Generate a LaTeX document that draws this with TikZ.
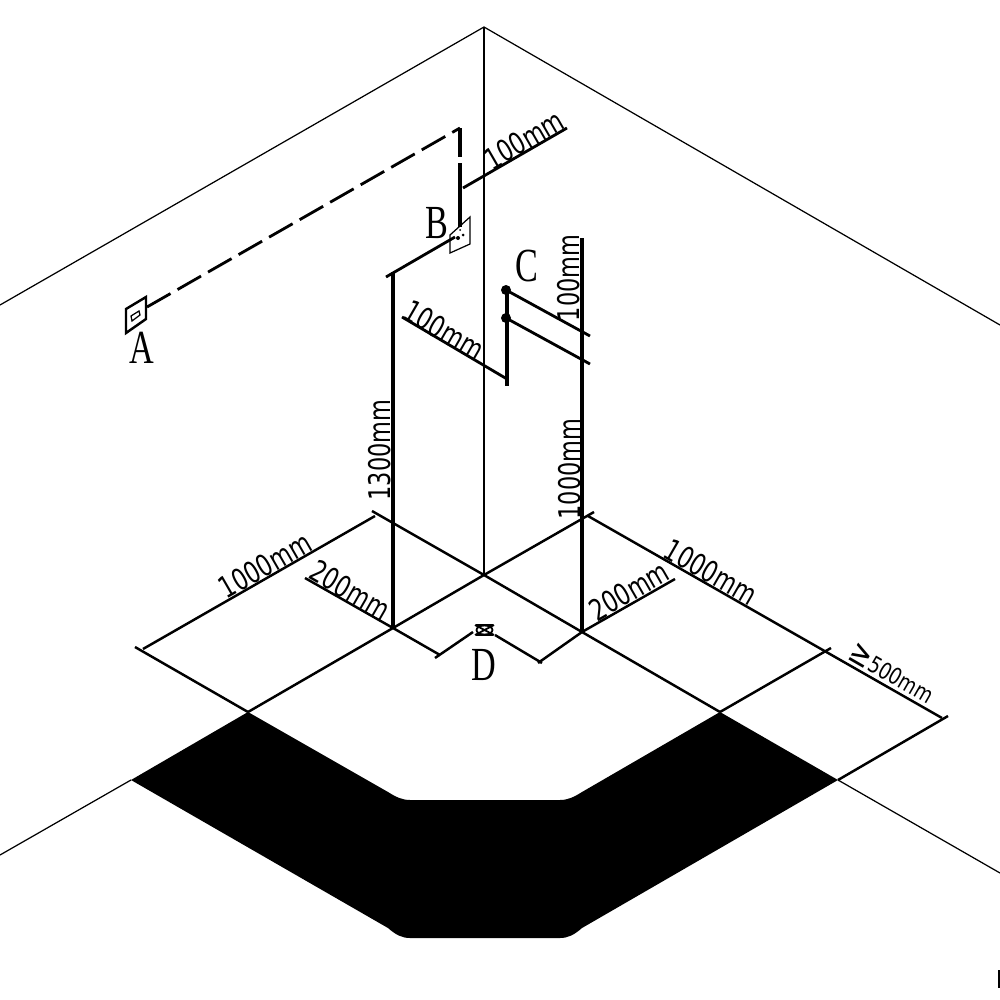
\documentclass[tikz,border=0pt]{standalone}
\usepackage{fontspec}
\setmainfont{Liberation Serif}
\setsansfont{DejaVu Sans}
\tikzset{
  thinline/.style={line width=0.35pt},
  dimline/.style={line width=0.7pt},
  pipeline/.style={line width=0.8pt},
  riserline/.style={line width=0.88pt},
  dashline/.style={line width=0.8pt,dash pattern=on 7.7pt off 2.3pt},
  dimtext/.style={inner sep=0pt,font=\sffamily\fontsize{8.5}{9}\selectfont,xscale=0.75},
  smalltext/.style={inner sep=0pt,font=\sffamily\fontsize{6.5}{7}\selectfont,xscale=0.8},
  lettertext/.style={inner sep=0pt,font=\fontsize{13.5}{14}\selectfont,xscale=0.72},
}
\begin{document}
\begin{tikzpicture}[x=0.01cm,y=-0.01cm]
  \useasboundingbox (0,0) rectangle (1000,1000);

  % room corner
  \coordinate (top) at (484,27);
  \coordinate (floor-c) at (484,575);
  \draw[thinline] (0,305) -- (top) -- (1000,325);
  \draw[thinline] (top) -- (floor-c);
  \draw[thinline] (0,855) -- (131,780);
  \draw[thinline] (838,780) -- (1000,873);
  \draw[thinline] (999,970) -- (999,988);

  % mat
  \fill[black] (248,712) -- (131,780) -- (388,928) .. controls (396,935) and (402,938) .. (410,938)
    -- (560,938) .. controls (568,938) and (574,935) .. (582,928) -- (838,780) -- (720,712)
    -- (582,792) .. controls (574,797) and (568,800) .. (560,800)
    -- (410,800) .. controls (402,800) and (396,797) .. (388,792) -- cycle;

  % floor dimensions
  \coordinate (p-l) at (393,628);
  \coordinate (p-r) at (582,632);
  \coordinate (e-l) at (372,511);
  \coordinate (e-r) at (594,512);
  \coordinate (m-l) at (248,712);
  \coordinate (m-r) at (720,712);
  \coordinate (f-l) at (135,647);
  \coordinate (f-m) at (831,648);
  \coordinate (f-r) at (948,716);
  \draw[dimline] (f-l) -- (m-l);
  \draw[dimline] (143,649) -- (375,516);
  \draw[dimline] (e-l) -- (floor-c) -- (p-r) -- (m-r);
  \draw[dimline] (m-l) -- (p-l) -- (floor-c) -- (e-r);
  \draw[dimline] (588,516) -- (942,718);
  \draw[dimline] (m-r) -- (f-m);
  \draw[dimline] (838,780) -- (f-r);
  \draw[dimline] (305,578) -- (p-l) -- (440,655);
  \draw[dimline] (435,658) -- (473,632);
  \draw[dimline] (495,635) -- (542,663);
  \draw[dimline] (538,663) -- (p-r) -- (675,579);

  % D
  \draw[line width=0.5pt] (475,625) -- (494,635) (475,635) -- (494,625) (476,625) -- (493,625) (476,635) -- (493,635);
  \draw[line width=0.5pt] (484.5,630) ellipse (8 and 4.5);

  % risers
  \draw[riserline] (p-l) -- (393,272);
  \draw[riserline] (p-r) -- (582,238);
  \draw[pipeline] (386,277) -- (455,237);
  \draw[pipeline] (506,290) -- (590,336);
  \draw[pipeline] (506,318) -- (590,364);
  \draw[riserline] (507,290) -- (507,386);
  \draw[pipeline] (402,317) -- (507,379);
  \draw[pipeline] (463,188) -- (567,128);
  \fill (506,290) circle (5);
  \fill (506,318) circle (5);

  % outlets
  \draw[dashline] (147,307) -- (460,128);
  \draw[riserline] (460,128) -- (460,157);
  \draw[riserline] (460,163) -- (460,227);
  \draw[thinline] (450,235) -- (470,217) -- (470,244) -- (450,253) -- cycle;
  \fill (458,238) circle (2) (463,235) circle (1.5) (460,230) circle (1);
  \draw[dimline] (126,309) -- (146,297) -- (146,319) -- (126,333) -- cycle;
  \draw[thinline] (131,316) -- (139,311) -- (140,315) -- (132,321) -- cycle;

  % labels
  \node[lettertext] (lab-a) at (142,348) {A};
  \node[lettertext] (lab-b) at (437,223) {B};
  \node[lettertext] (lab-c) at (527,266) {C};
  \node[lettertext] (lab-d) at (484,665) {D};
  \node[rotate=-30,dimtext] (d-100b) at (444,330) {100mm};
  \node[rotate=-30,dimtext] (d-1000r) at (711,572) {1000mm};
  \node[rotate=-30,dimtext] (d-200l) at (350,590) {200mm};
  \node[rotate=-30,smalltext] (d-500) at (892,673) {{\fontsize{9.5}{9}\selectfont ≥}500mm};
  \node[rotate=30,dimtext] (d-100c) at (524,140) {100mm};
  \node[rotate=30,dimtext] (d-1000l) at (265,565) {1000mm};
  \node[rotate=30,dimtext] (d-200r) at (629,591) {200mm};
  \node[rotate=90,dimtext] (d-1300) at (380,450) {1300mm};
  \node[rotate=90,dimtext] (d-1000v) at (570,469) {1000mm};
  \node[rotate=90,dimtext] (d-100d) at (569,278) {100mm};
\end{tikzpicture}
\end{document}
